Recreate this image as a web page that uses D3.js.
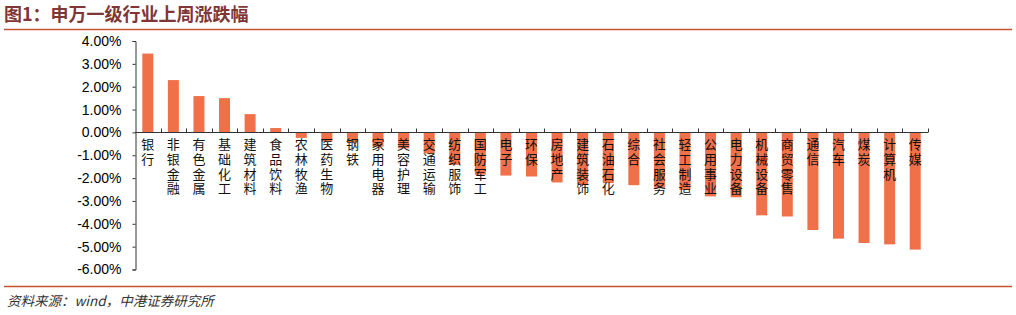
<!DOCTYPE html>
<html>
<head>
<meta charset="utf-8">
<script src="https://cdn.jsdelivr.net/npm/d3@7"></script>
<style>
  body { margin: 0; background: #fff; }
  svg { display: block; }
  .tick text { font-family: "Liberation Sans", Arial, sans-serif; font-size: 14px; fill: #000; }
  .cat { font-family: "Noto Sans CJK SC", sans-serif; font-size: 13px; fill: #111;
         writing-mode: vertical-rl; letter-spacing: 1.6px; }
</style>
</head>
<body>
<div id="chart"></div>
<script>
// chart size
var svgWidth = 1016;
var svgHeight = 315;

// industries (shenwan level 1)
var categories = ["银行", "非银金融", "有色金属", "基础化工", "建筑材料", "食品饮料", "农林牧渔",
  "医药生物", "钢铁", "家用电器", "美容护理", "交通运输", "纺织服饰", "国防军工", "电子", "环保",
  "房地产", "建筑装饰", "石油石化", "综合", "社会服务", "轻工制造", "公用事业", "电力设备",
  "机械设备", "商贸零售", "通信", "汽车", "煤炭", "计算机", "传媒"];

// weekly change (%)
var changes = [3.45, 2.29, 1.59, 1.50, 0.80, 0.19, -0.24,
  -0.40, -0.45, -0.62, -0.70, -0.92, -1.42, -1.85, -1.89, -1.93,
  -2.19, -2.28, -2.22, -2.31, -2.42, -2.52, -2.80, -2.84,
  -3.63, -3.68, -4.27, -4.65, -4.84, -4.90, -5.13];

var yTicks = [4, 3, 2, 1, 0, -1, -2, -3, -4, -5, -6];

var title = "图1：申万一级行业上周涨跌幅";
var source = "资料来源：wind，中港证券研究所";

var svg = d3.select("#chart")
  .append("svg")
    .attr("width", svgWidth)
    .attr("height", svgHeight);

// header and footer
svg.append("text")
    .attr("x", 4)
    .attr("y", 21)
    .attr("fill", "#7e3636")
    .style("font-family", "'Noto Sans CJK SC', sans-serif")
    .style("font-weight", "bold")
    .style("font-size", "18px")
    .text(title);

svg.append("line")
    .attr("x1", 4).attr("x2", 1012)
    .attr("y1", 29.5).attr("y2", 29.5)
    .attr("stroke", "#c4532f")
    .attr("stroke-width", 1.5);

svg.append("line")
    .attr("x1", 4).attr("x2", 1012)
    .attr("y1", 286.5).attr("y2", 286.5)
    .attr("stroke", "#c4532f")
    .attr("stroke-width", 1.5);

svg.append("text")
    .attr("x", 7)
    .attr("y", 306)
    .attr("fill", "#333")
    .style("font-family", "'Noto Sans CJK SC', sans-serif")
    .style("font-style", "italic")
    .style("font-size", "13.5px")
    .text(source);

// scales
var x = d3.scaleBand()
    .domain(categories)
    .range([135, 928])
    .padding(0);

var y = d3.scaleLinear()
    .domain([-6, 4])
    .range([269.5, 41]);

var barWidth = x.bandwidth() * 0.43;

// bars
svg.append("g").selectAll("rect").data(categories)
  .enter().append("rect")
    .attr("x", d => x(d) + (x.bandwidth() - barWidth) / 2)
    .attr("y", (d, i) => y(Math.max(0, changes[i])))
    .attr("width", barWidth)
    .attr("height", (d, i) => Math.abs(y(changes[i]) - y(0)))
    .attr("fill", "#f0704a");

// left axis
var leftAxisG = svg.append("g")
    .attr("transform", "translate(135.5,0)")
    .call(d3.axisLeft(y).tickValues(yTicks).tickSize(3).tickPadding(11)
      .tickFormat(d => d.toFixed(2) + "%"));
leftAxisG.select(".domain").attr("stroke", "#333");
leftAxisG.selectAll(".tick line").attr("stroke", "#333");

// bottom axis on zero line, ticks between categories
var bottomG = svg.append("g")
    .attr("transform", `translate(0,${Math.round(y(0)) + 0.5})`);
bottomG.append("line")
    .attr("x1", x.range()[0]).attr("x2", x.range()[1])
    .attr("stroke", "#333");
bottomG.selectAll(".xt").data(categories)
  .enter().append("line")
    .attr("x1", d => Math.round(x(d) + x.bandwidth()) + 0.5)
    .attr("x2", d => Math.round(x(d) + x.bandwidth()) + 0.5)
    .attr("y1", -4).attr("y2", 0)
    .attr("stroke", "#333");

// vertical category labels
svg.append("g").selectAll("text").data(categories)
  .enter().append("text")
    .attr("class", "cat")
    .attr("x", d => x(d) + x.bandwidth() / 2)
    .attr("y", 138)
    .text(d => d);
</script>
</body>
</html>
